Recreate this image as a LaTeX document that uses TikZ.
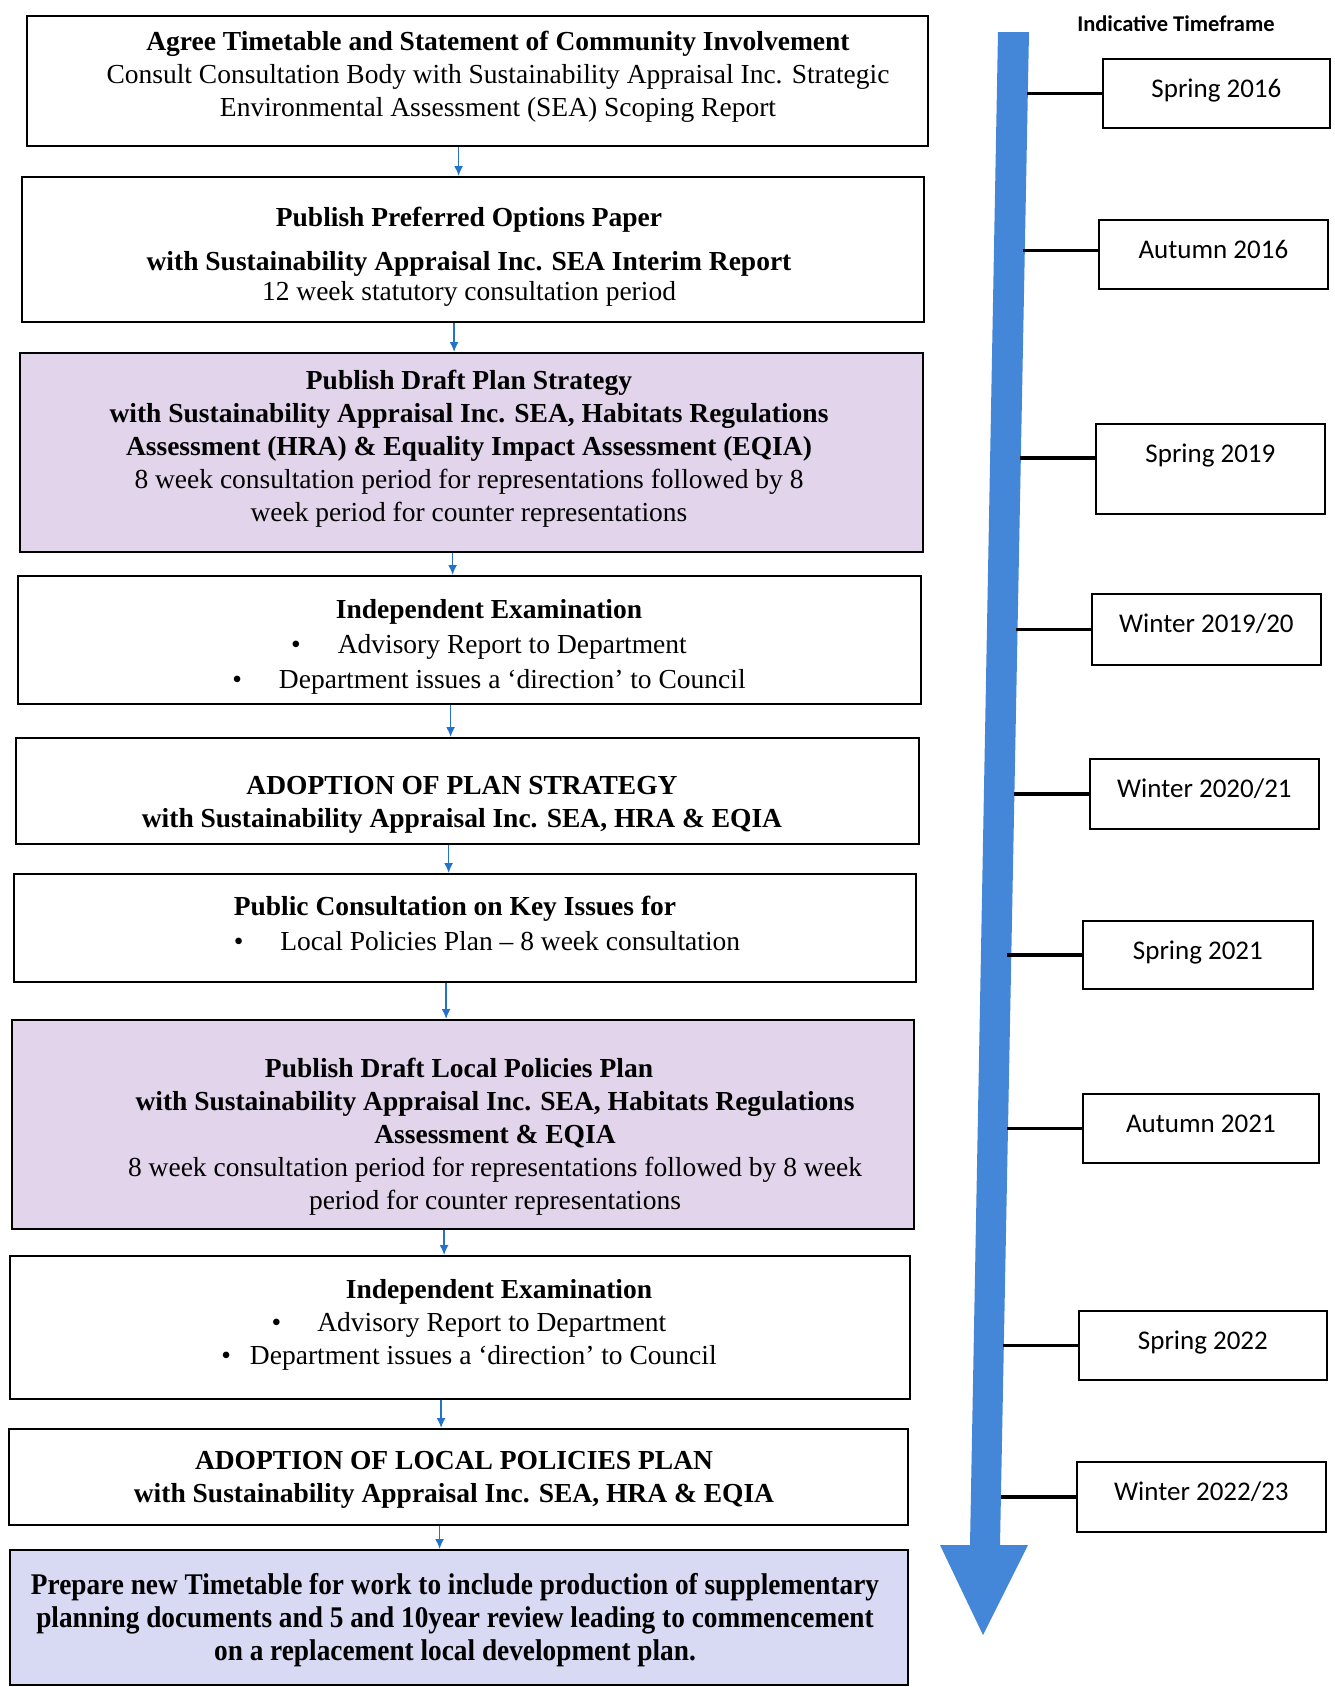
\documentclass[tikz,border=0pt]{standalone}
\usepackage{fontspec}
\setmainfont{Liberation Serif}
\newfontfamily\calib{Carlito}
\newfontfamily\condfont{Liberation Serif}[FakeStretch=0.91]
\usepackage{tikz}
\usepgflibrary{arrows}
\usetikzlibrary{arrows,arrows.meta}

\definecolor{lilac}{RGB}{225,212,235}
\definecolor{paleblue}{RGB}{216,218,244}
\definecolor{arrowblue}{RGB}{35,115,205}
\definecolor{shaftblue}{RGB}{68,134,216}

\tikzstyle{stage}=[draw=black,line width=2.2pt,anchor=north west,inner sep=0pt]
\tikzstyle{draftstage}=[stage,fill=lilac]
\tikzstyle{finalstage}=[stage,fill=paleblue]
\tikzstyle{stagetext}=[align=center,inner sep=0pt,yshift=-4pt,font=\fontsize{27.5}{33}\selectfont]
\tikzstyle{finaltext}=[stagetext,font=\fontsize{30}{33}\condfont\bfseries]
\tikzstyle{period}=[draw=black,line width=1.8pt,anchor=north west,inner sep=0pt,text height=39pt,text depth=30pt,font=\fontsize{27}{30}\calib]
\tikzstyle{flowarrow}=[-{Latex[length=10pt,width=9pt]},line width=1.6pt,arrowblue]
\tikzstyle{tick}=[line width=3.5pt,black]

\newcommand{\bulletgap}[1]{\textbullet\hspace{#1}}

\begin{document}
\begin{tikzpicture}[x=1pt,y=-1pt]

\useasboundingbox (0,0) rectangle (1335,1687);

%%% Timeline Arrow

\fill [shaftblue]
(998,32) -- (1029,32) -- (1000,1545) -- (1028,1545)
-- (983,1635) -- (940,1545) -- (970,1545) -- cycle;

\node [font=\fontsize{22.5}{26}\calib\bfseries] (hdr) at (1176,24) {Indicative Timeframe};


%%% Stages

% Scoping

\node [stage,minimum width=901pt,minimum height=130pt] (b1) at (26,15) {};
\node [stagetext] (b1text) at (498,73)
{\textbf{Agree Timetable and Statement of Community\ Involvement}\\
Consult Consultation Body with Sustainability Appraisal Inc. Strategic\\
Environmental Assessment (SEA) Scoping Report};

% Preferred Options

\node [stage,minimum width=902pt,minimum height=145pt] (b2) at (21,176) {};
\node [stagetext] (b2text) at (469,253)
{\textbf{Publish Preferred Options Paper}\\[11pt]
\textbf{with Sustainability Appraisal Inc. SEA Interim\ Report}\\[-3pt]
12 week statutory consultation period};

% Draft Plan Strategy

\node [draftstage,minimum width=903pt,minimum height=199pt] (b3) at (19,352) {};
\node [stagetext] (b3text) at (469,445)
{\textbf{Publish Draft Plan Strategy}\\
\textbf{with Sustainability Appraisal Inc. SEA, Habitats Regulations}\\
\textbf{Assessment (HRA) \& Equality Impact Assessment (EQIA)}\\
8 week consultation period for representations followed by 8\\
week period for counter representations};

% Examination 1

\node [stage,minimum width=903pt,minimum height=128pt] (b4) at (17,575) {};
\node [stagetext] (b4text) at (489,643)
{\textbf{Independent\ Examination}\\[2pt]
\bulletgap{37pt}Advisory Report to Department\\[2pt]
\bulletgap{37pt}Department issues a ‘direction’ to Council};

% Adoption 1

\node [stage,minimum width=903pt,minimum height=106pt] (b5) at (15,737) {};
\node [stagetext] (b5text) at (462,801)
{\textbf{ADOPTION OF PLAN STRATEGY}\\
\textbf{with Sustainability Appraisal Inc. SEA, HRA \&\ EQIA}};

% Key Issues

\node [stage,minimum width=902pt,minimum height=108pt] (b6) at (13,873) {};
\node [stagetext,align=left] (b6text) at (487,919)
{\textbf{Public Consultation on Key Issues for}\\[2pt]
\bulletgap{37pt}Local Policies Plan -- 8 week consultation};

% Draft Local Policies Plan

\node [draftstage,minimum width=902pt,minimum height=209pt] (b7) at (11,1019) {};
\node [stagetext] (b7text) at (495,1133)
{\hspace*{-72pt}\textbf{Publish Draft Local Policies Plan}\\
\textbf{with Sustainability Appraisal Inc. SEA, Habitats Regulations}\\
\textbf{Assessment \&\ EQIA}\\
8 week consultation period for representations followed by 8 week\\
period for counter representations};

% Examination 2

\node [stage,minimum width=900pt,minimum height=143pt] (b8) at (9,1255) {};
\node [stagetext] (b8text) at (469,1321)
{\hspace*{60pt}\textbf{Independent\ Examination}\\
\bulletgap{36pt}Advisory Report to Department\\
\bulletgap{19pt}Department issues a ‘direction’ to Council};

% Adoption 2

\node [stage,minimum width=899pt,minimum height=96pt] (b9) at (8,1428) {};
\node [stagetext] (b9text) at (454,1476)
{\textbf{ADOPTION OF LOCAL POLICIES PLAN}\\
\textbf{with Sustainability Appraisal Inc. SEA, HRA \&\ EQIA}};

% Review

\node [finalstage,minimum width=898pt,minimum height=135pt] (b10) at (9,1549) {};
\node [finaltext] (b10text) at (455,1616)
{Prepare new Timetable for work to include production of supplementary\\
planning documents and 5 and 10year review leading to commencement\\
on a replacement\ local development\ plan.};


%%% Flow Arrows

\foreach \a/\b in {b1/b2,b2/b3,b3/b4,b4/b5,b5/b6,b6/b7,b7/b8,b8/b9,b9/b10}
\draw [flowarrow] ([xshift=-19pt]\a.south) -- ([xshift=-19pt]\a.south |- \b.north);


%%% Timeframes

\node [period,minimum width=227pt] (t1) at (1102,58) {Spring 2016};
\draw [tick] (t1.west) -- ++(-75,0);

\node [period,minimum width=229pt] (t2) at (1098,219) {Autumn 2016};
\draw [tick] ([yshift=4pt]t2.west) -- ++(-75,0);

\node [period,minimum width=229pt,text depth=51pt] (t3) at (1095,423) {Spring 2019};
\draw [tick] ([yshift=11pt]t3.west) -- ++(-75,0);

\node [period,minimum width=229pt,text depth=32pt] (t4) at (1091,593) {Winter 2019/20};
\draw [tick] (t4.west) -- ++(-75,0);

\node [period,minimum width=229pt,text depth=31pt] (t5) at (1089,758) {Winter 2020/21};
\draw [tick] (t5.west) -- ++(-75,0);

\node [period,minimum width=230pt,text depth=29pt] (t6) at (1082,920) {Spring 2021};
\draw [tick] (t6.west) -- ++(-75,0);

\node [period,minimum width=236pt] (t7) at (1082,1093) {Autumn 2021};
\draw [tick] (t7.west) -- ++(-75,0);

\node [period,minimum width=248pt] (t8) at (1078,1310) {Spring 2022};
\draw [tick] (t8.west) -- ++(-75,0);

\node [period,minimum width=249pt,text depth=31pt] (t9) at (1076,1461) {Winter 2022/23};
\draw [tick] (t9.west) -- ++(-75,0);

\end{tikzpicture}
\end{document}
